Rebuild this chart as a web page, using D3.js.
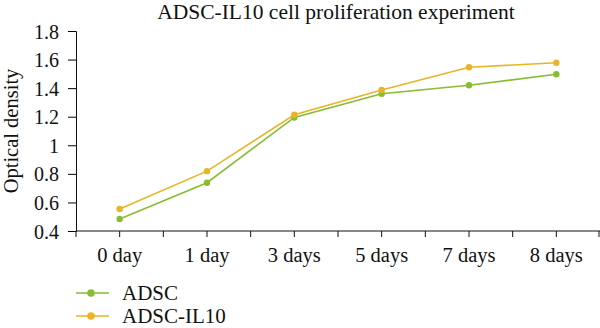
<!DOCTYPE html>
<meta charset="utf-8">
<head>
    <title>ADSC-IL10 cell proliferation experiment</title>
    <script type="text/javascript" src="https://cdn.jsdelivr.net/npm/d3@7"></script>
    <style type="text/css">
        body { margin: 0; background: #fff; }
        svg text { font-family: "Liberation Serif", "DejaVu Serif", serif; fill: #111; }
    </style>
</head>
<body>
    <div id="chart"></div>
    <script>
        // data
        var days = ["0 day", "1 day", "3 days", "5 days", "7 days", "8 days"];
        var adsc = [0.484, 0.738, 1.195, 1.361, 1.42, 1.497];
        var adscIL10 = [0.554, 0.819, 1.214, 1.387, 1.546, 1.578];
        var yTicks = [0.4, 0.6, 0.8, 1, 1.2, 1.4, 1.6, 1.8];
        var seriesNames = ["ADSC", "ADSC-IL10"];
        var colors = ["#86bd32", "#e8b526"];

        var width = 600, height = 328;
        var margin = {top: 31, right: 0, bottom: 97, left: 76};

        var svg = d3.select("#chart").append("svg")
            .attr("width", width)
            .attr("height", height);

        var x = d3.scaleBand()
            .domain(days)
            .range([margin.left, width - margin.right]);

        var y = d3.scaleLinear()
            .domain([0.4, 1.8])
            .range([height - margin.bottom, margin.top]);

        // title
        svg.append("text")
            .attr("x", 336)
            .attr("y", 19)
            .attr("text-anchor", "middle")
            .style("font-size", "21.5px")
            .text("ADSC-IL10 cell proliferation experiment");

        // y axis
        var yAxis = svg.append("g")
            .attr("transform", "translate(" + margin.left + ",0)")
            .call(d3.axisLeft(y).tickValues(yTicks).tickSize(8).tickPadding(9)
                .tickFormat(function(d){ return d3.format("")(+d.toFixed(1)); }));
        yAxis.attr("font-family", null).attr("font-size", null);
        yAxis.select(".domain").attr("stroke", "#111");
        yAxis.selectAll("text")
            .attr("dy", "0.35em")
            .style("font-family", "'Liberation Serif', serif")
            .style("font-size", "20px");

        svg.append("text")
            .attr("transform", "translate(18," + ((margin.top + height - margin.bottom) / 2) + ") rotate(-90)")
            .attr("text-anchor", "middle")
            .style("font-size", "20.5px")
            .text("Optical density");

        // x axis: ticks at band centers and band edges
        var xg = svg.append("g")
            .attr("transform", "translate(0," + (height - margin.bottom) + ")");
        xg.append("line")
            .attr("x1", margin.left).attr("x2", width)
            .attr("stroke", "#111");
        var edges = days.map(function(d){ return x(d); }).concat([x.range()[1] - 1]);
        var centers = days.map(function(d){ return x(d) + x.bandwidth() / 2; });
        xg.selectAll(".tk")
            .data(edges.concat(centers))
            .enter().append("line")
            .attr("x1", function(d){ return d; })
            .attr("x2", function(d){ return d; })
            .attr("y1", 0).attr("y2", 6)
            .attr("stroke", "#111");
        xg.selectAll(".lbl")
            .data(days)
            .enter().append("text")
            .attr("x", function(d){ return x(d) + x.bandwidth() / 2; })
            .attr("y", 31)
            .attr("text-anchor", "middle")
            .style("font-size", "20.5px")
            .text(function(d){ return d; });

        // lines
        var series = [adsc, adscIL10];
        var line = d3.line()
            .x(function(d, i){ return x(days[i]) + x.bandwidth() / 2; })
            .y(function(d){ return y(d); });

        series.forEach(function(s, k){
            svg.append("path")
                .datum(s)
                .attr("fill", "none")
                .attr("stroke", colors[k])
                .attr("stroke-width", 1.6)
                .attr("d", line);
            svg.selectAll(".pt" + k)
                .data(s)
                .enter().append("circle")
                .attr("cx", function(d, i){ return x(days[i]) + x.bandwidth() / 2; })
                .attr("cy", function(d){ return y(d); })
                .attr("r", 3.2)
                .attr("fill", colors[k]);
        });

        // legend
        seriesNames.forEach(function(n, k){
            var ly = 293 + k * 23;
            svg.append("line")
                .attr("x1", 76).attr("x2", 109)
                .attr("y1", ly).attr("y2", ly)
                .attr("stroke", colors[k]).attr("stroke-width", 1.6);
            svg.append("circle")
                .attr("cx", 91).attr("cy", ly).attr("r", 3.8)
                .attr("fill", colors[k]);
            svg.append("text")
                .attr("x", 122).attr("y", ly + 6.5)
                .style("font-size", "21px")
                .text(n);
        });
    </script>
</body>
</html>
